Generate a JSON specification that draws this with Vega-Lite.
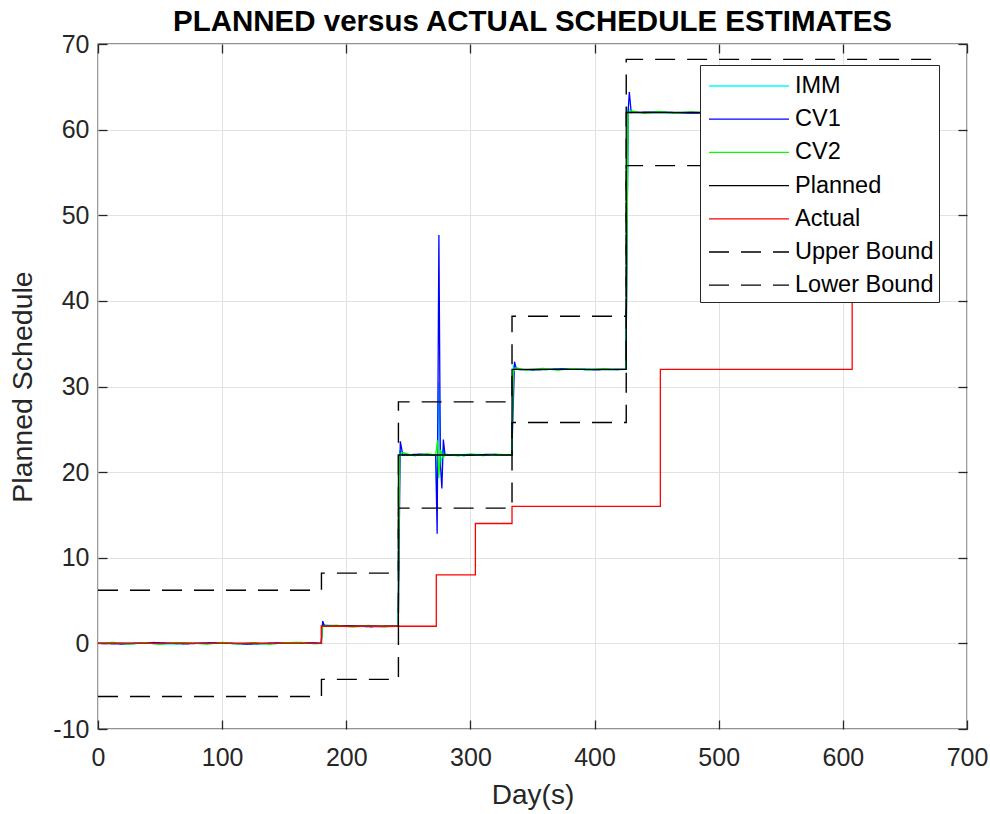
{
  "$schema": "https://vega.github.io/schema/vega-lite/v6.json",
  "width": 869,
  "height": 685,
  "autosize": "none",
  "padding": {"left": 98, "top": 44, "right": 23, "bottom": 85},
  "background": "white",
  "title": {
    "text": "PLANNED versus ACTUAL SCHEDULE ESTIMATES",
    "font": "Liberation Sans",
    "fontSize": 29.5,
    "fontWeight": "bold",
    "color": "#000000",
    "anchor": "middle",
    "frame": "group",
    "baseline": "alphabetic",
    "offset": 14,
    "dy": 42
  },
  "config": {
    "font": "Liberation Sans",
    "view": {"stroke": "#262626", "strokeWidth": 1.3},
    "legend": {
      "orient": "none",
      "legendX": 602,
      "legendY": 21,
      "strokeColor": "#262626",
      "fillColor": "white",
      "padding": 5,
      "symbolType": "M-0.8,0H4.533",
      "symbolSize": 900,
      "symbolStrokeWidth": 1.3,
      "labelFont": "Liberation Sans",
      "labelFontSize": 23.5,
      "labelColor": "#000000",
      "labelOffset": 58,
      "labelLimit": 300,
      "rowPadding": 5.2,
      "title": null
    }
  },
  "data": {
    "values": [
      {"s": "IMM", "d": 0, "v": 0}, {"s": "IMM", "d": 30, "v": 0.06}, {"s": "IMM", "d": 60, "v": -0.1},
      {"s": "IMM", "d": 90, "v": 0.1}, {"s": "IMM", "d": 130, "v": -0.08}, {"s": "IMM", "d": 160, "v": 0.1},
      {"s": "IMM", "d": 179.8, "v": 0}, {"s": "IMM", "d": 181, "v": 2.2}, {"s": "IMM", "d": 200, "v": 1.95},
      {"s": "IMM", "d": 241.8, "v": 2}, {"s": "IMM", "d": 243, "v": 22.5}, {"s": "IMM", "d": 250, "v": 21.95},
      {"s": "IMM", "d": 272, "v": 22}, {"s": "IMM", "d": 273, "v": 16.5}, {"s": "IMM", "d": 274.5, "v": 30.5},
      {"s": "IMM", "d": 276, "v": 20.8}, {"s": "IMM", "d": 278, "v": 22.6}, {"s": "IMM", "d": 280, "v": 22},
      {"s": "IMM", "d": 300, "v": 22.08}, {"s": "IMM", "d": 333.3, "v": 22}, {"s": "IMM", "d": 334.5, "v": 32.4},
      {"s": "IMM", "d": 340, "v": 31.95}, {"s": "IMM", "d": 370, "v": 32.08}, {"s": "IMM", "d": 425.3, "v": 32},
      {"s": "IMM", "d": 427, "v": 62.5}, {"s": "IMM", "d": 430, "v": 62}, {"s": "IMM", "d": 460, "v": 61.94},
      {"s": "IMM", "d": 678, "v": 62},

      {"s": "CV1", "d": 0, "v": 0}, {"s": "CV1", "d": 20, "v": -0.08}, {"s": "CV1", "d": 45, "v": 0.1},
      {"s": "CV1", "d": 70, "v": -0.06}, {"s": "CV1", "d": 95, "v": 0.08}, {"s": "CV1", "d": 120, "v": -0.1},
      {"s": "CV1", "d": 145, "v": 0.06}, {"s": "CV1", "d": 170, "v": 0.08}, {"s": "CV1", "d": 179.8, "v": 0},
      {"s": "CV1", "d": 181, "v": 2.6}, {"s": "CV1", "d": 182.5, "v": 2}, {"s": "CV1", "d": 200, "v": 2.08},
      {"s": "CV1", "d": 220, "v": 1.94}, {"s": "CV1", "d": 241.8, "v": 2}, {"s": "CV1", "d": 243.5, "v": 23.6},
      {"s": "CV1", "d": 245.5, "v": 22}, {"s": "CV1", "d": 260, "v": 22.1}, {"s": "CV1", "d": 272, "v": 22},
      {"s": "CV1", "d": 273.2, "v": 12.8}, {"s": "CV1", "d": 274.6, "v": 47.7}, {"s": "CV1", "d": 275.8, "v": 21},
      {"s": "CV1", "d": 277, "v": 18.1}, {"s": "CV1", "d": 278.2, "v": 23.8}, {"s": "CV1", "d": 279.5, "v": 22},
      {"s": "CV1", "d": 295, "v": 21.94}, {"s": "CV1", "d": 315, "v": 22.08}, {"s": "CV1", "d": 333.3, "v": 22},
      {"s": "CV1", "d": 335.5, "v": 32.9}, {"s": "CV1", "d": 337, "v": 32}, {"s": "CV1", "d": 350, "v": 31.92},
      {"s": "CV1", "d": 375, "v": 32.06}, {"s": "CV1", "d": 400, "v": 31.95}, {"s": "CV1", "d": 425.3, "v": 32},
      {"s": "CV1", "d": 427, "v": 62}, {"s": "CV1", "d": 428, "v": 64.4}, {"s": "CV1", "d": 429.5, "v": 62},
      {"s": "CV1", "d": 450, "v": 62.06}, {"s": "CV1", "d": 475, "v": 61.94}, {"s": "CV1", "d": 678, "v": 62},

      {"s": "CV2", "d": 0, "v": 0}, {"s": "CV2", "d": 12, "v": 0.12}, {"s": "CV2", "d": 25, "v": -0.1},
      {"s": "CV2", "d": 38, "v": 0.08}, {"s": "CV2", "d": 50, "v": -0.12}, {"s": "CV2", "d": 63, "v": 0.1},
      {"s": "CV2", "d": 75, "v": 0.05}, {"s": "CV2", "d": 88, "v": -0.1}, {"s": "CV2", "d": 100, "v": 0.12},
      {"s": "CV2", "d": 113, "v": -0.08}, {"s": "CV2", "d": 125, "v": 0.1}, {"s": "CV2", "d": 138, "v": -0.12},
      {"s": "CV2", "d": 150, "v": 0.08}, {"s": "CV2", "d": 163, "v": 0.12}, {"s": "CV2", "d": 175, "v": -0.05},
      {"s": "CV2", "d": 179.8, "v": 0}, {"s": "CV2", "d": 181, "v": 2}, {"s": "CV2", "d": 192, "v": 2.12},
      {"s": "CV2", "d": 205, "v": 1.9}, {"s": "CV2", "d": 218, "v": 2.1}, {"s": "CV2", "d": 230, "v": 1.92},
      {"s": "CV2", "d": 241.8, "v": 2}, {"s": "CV2", "d": 243, "v": 21.8}, {"s": "CV2", "d": 245, "v": 22.3},
      {"s": "CV2", "d": 255, "v": 21.9}, {"s": "CV2", "d": 265, "v": 22.15}, {"s": "CV2", "d": 272, "v": 22},
      {"s": "CV2", "d": 273.5, "v": 23.7}, {"s": "CV2", "d": 274.5, "v": 19.3}, {"s": "CV2", "d": 276, "v": 22.6},
      {"s": "CV2", "d": 278, "v": 21.7}, {"s": "CV2", "d": 280, "v": 22.1}, {"s": "CV2", "d": 290, "v": 21.9},
      {"s": "CV2", "d": 300, "v": 22.12}, {"s": "CV2", "d": 310, "v": 21.92}, {"s": "CV2", "d": 320, "v": 22.1},
      {"s": "CV2", "d": 333.3, "v": 22}, {"s": "CV2", "d": 334.5, "v": 31.6}, {"s": "CV2", "d": 336, "v": 32.2},
      {"s": "CV2", "d": 345, "v": 31.9}, {"s": "CV2", "d": 358, "v": 32.12}, {"s": "CV2", "d": 370, "v": 31.9},
      {"s": "CV2", "d": 383, "v": 32.1}, {"s": "CV2", "d": 395, "v": 31.92}, {"s": "CV2", "d": 408, "v": 32.1},
      {"s": "CV2", "d": 418, "v": 31.95}, {"s": "CV2", "d": 425.3, "v": 32}, {"s": "CV2", "d": 427, "v": 61.8},
      {"s": "CV2", "d": 429, "v": 62.2}, {"s": "CV2", "d": 440, "v": 61.9}, {"s": "CV2", "d": 452, "v": 62.12},
      {"s": "CV2", "d": 465, "v": 61.92}, {"s": "CV2", "d": 478, "v": 62.08}, {"s": "CV2", "d": 490, "v": 61.95},
      {"s": "CV2", "d": 678, "v": 62},

      {"s": "Planned", "d": 0, "v": 0}, {"s": "Planned", "d": 180, "v": 2}, {"s": "Planned", "d": 242, "v": 22},
      {"s": "Planned", "d": 333.5, "v": 32}, {"s": "Planned", "d": 425.5, "v": 62}, {"s": "Planned", "d": 678, "v": 62},

      {"s": "Actual", "d": 0, "v": 0}, {"s": "Actual", "d": 180, "v": 2}, {"s": "Actual", "d": 272.5, "v": 8},
      {"s": "Actual", "d": 304, "v": 14}, {"s": "Actual", "d": 333.5, "v": 16}, {"s": "Actual", "d": 453, "v": 32},
      {"s": "Actual", "d": 607.5, "v": 62},

      {"s": "Upper Bound", "d": 0, "v": 6.2}, {"s": "Upper Bound", "d": 180, "v": 8.2}, {"s": "Upper Bound", "d": 242, "v": 28.2},
      {"s": "Upper Bound", "d": 333.5, "v": 38.2}, {"s": "Upper Bound", "d": 425.5, "v": 68.2}, {"s": "Upper Bound", "d": 678, "v": 68.2},

      {"s": "Lower Bound", "d": 0, "v": -6.2}, {"s": "Lower Bound", "d": 180, "v": -4.2}, {"s": "Lower Bound", "d": 242, "v": 15.8},
      {"s": "Lower Bound", "d": 333.5, "v": 25.8}, {"s": "Lower Bound", "d": 425.5, "v": 55.8}, {"s": "Lower Bound", "d": 678, "v": 55.8}
    ]
  },
  "encoding": {
    "color": {
      "field": "s",
      "type": "nominal",
      "scale": {
        "domain": ["IMM", "CV1", "CV2", "Planned", "Actual", "Upper Bound", "Lower Bound"],
        "range": ["#00ffff", "#0000ff", "#00ff00", "#000000", "#ff0000", "#000000", "#000000"]
      },
      "legend": {"title": null}
    },
    "strokeDash": {
      "field": "s",
      "type": "nominal",
      "scale": {
        "domain": ["IMM", "CV1", "CV2", "Planned", "Actual", "Upper Bound", "Lower Bound"],
        "range": [[1, 0], [1, 0], [1, 0], [1, 0], [1, 0], [20, 12], [20, 12]]
      },
      "legend": {"title": null}
    }
  },
  "layer": [
    {
      "transform": [{"filter": {"field": "s", "oneOf": ["IMM", "CV1", "CV2"]}}],
      "mark": {"type": "line", "strokeWidth": 1.3, "interpolate": "linear"},
      "encoding": {
        "x": {
          "field": "d", "type": "quantitative",
          "scale": {"domain": [0, 700], "nice": false, "zero": false},
          "axis": {
            "orient": "bottom", "values": [0, 100, 200, 300, 400, 500, 600, 700],
            "title": "Day(s)", "titleFontSize": 28, "titleFontWeight": "normal", "titleColor": "#262626",
            "titlePadding": 11,
            "labelFontSize": 25, "labelColor": "#262626", "labelPadding": 25, "labelFlush": false, "labelOverlap": false,
            "labelExpr": "'' + datum.value",
            "tickSize": -9, "tickColor": "#262626", "tickWidth": 1.3,
            "domain": false, "grid": true, "gridColor": "#e2e2e2", "gridWidth": 1
          }
        },
        "y": {
          "field": "v", "type": "quantitative",
          "scale": {"domain": [-10, 70], "nice": false, "zero": false},
          "axis": {
            "orient": "left", "values": [-10, 0, 10, 20, 30, 40, 50, 60, 70],
            "title": "Planned Schedule", "titleFontSize": 28.5, "titleFontWeight": "normal", "titleColor": "#262626",
            "titlePadding": 15,
            "labelFontSize": 25, "labelColor": "#262626", "labelPadding": 18, "labelFlush": false, "labelOverlap": false,
            "labelExpr": "'' + datum.value",
            "tickSize": -9, "tickColor": "#262626", "tickWidth": 1.3,
            "domain": false, "grid": true, "gridColor": "#e2e2e2", "gridWidth": 1
          }
        }
      }
    },
    {
      "transform": [{"filter": {"field": "s", "equal": "Planned"}}],
      "mark": {"type": "line", "strokeWidth": 1.3, "interpolate": "step-after"},
      "encoding": {
        "x": {
          "field": "d", "type": "quantitative",
          "scale": {"domain": [0, 700], "nice": false, "zero": false},
          "axis": {
            "orient": "top", "values": [0, 100, 200, 300, 400, 500, 600, 700],
            "title": null, "labels": false, "domain": false, "grid": false,
            "tickSize": -9, "tickColor": "#262626", "tickWidth": 1.3
          }
        },
        "y": {
          "field": "v", "type": "quantitative",
          "scale": {"domain": [-10, 70], "nice": false, "zero": false},
          "axis": {
            "orient": "right", "values": [-10, 0, 10, 20, 30, 40, 50, 60, 70],
            "title": null, "labels": false, "domain": false, "grid": false,
            "tickSize": -9, "tickColor": "#262626", "tickWidth": 1.3
          }
        }
      }
    },
    {
      "transform": [{"filter": {"field": "s", "equal": "Actual"}}],
      "mark": {"type": "line", "strokeWidth": 1.3, "interpolate": "step-after"},
      "encoding": {
        "x": {"field": "d", "type": "quantitative", "scale": {"domain": [0, 700], "nice": false, "zero": false}, "axis": null},
        "y": {"field": "v", "type": "quantitative", "scale": {"domain": [-10, 70], "nice": false, "zero": false}, "axis": null}
      }
    },
    {
      "transform": [{"filter": {"field": "s", "oneOf": ["Upper Bound", "Lower Bound"]}}],
      "mark": {"type": "line", "strokeWidth": 1.4, "interpolate": "step-after"},
      "encoding": {
        "x": {"field": "d", "type": "quantitative", "scale": {"domain": [0, 700], "nice": false, "zero": false}, "axis": null},
        "y": {"field": "v", "type": "quantitative", "scale": {"domain": [-10, 70], "nice": false, "zero": false}, "axis": null}
      }
    }
  ],
  "resolve": {"axis": {"x": "independent", "y": "independent"}}
}
